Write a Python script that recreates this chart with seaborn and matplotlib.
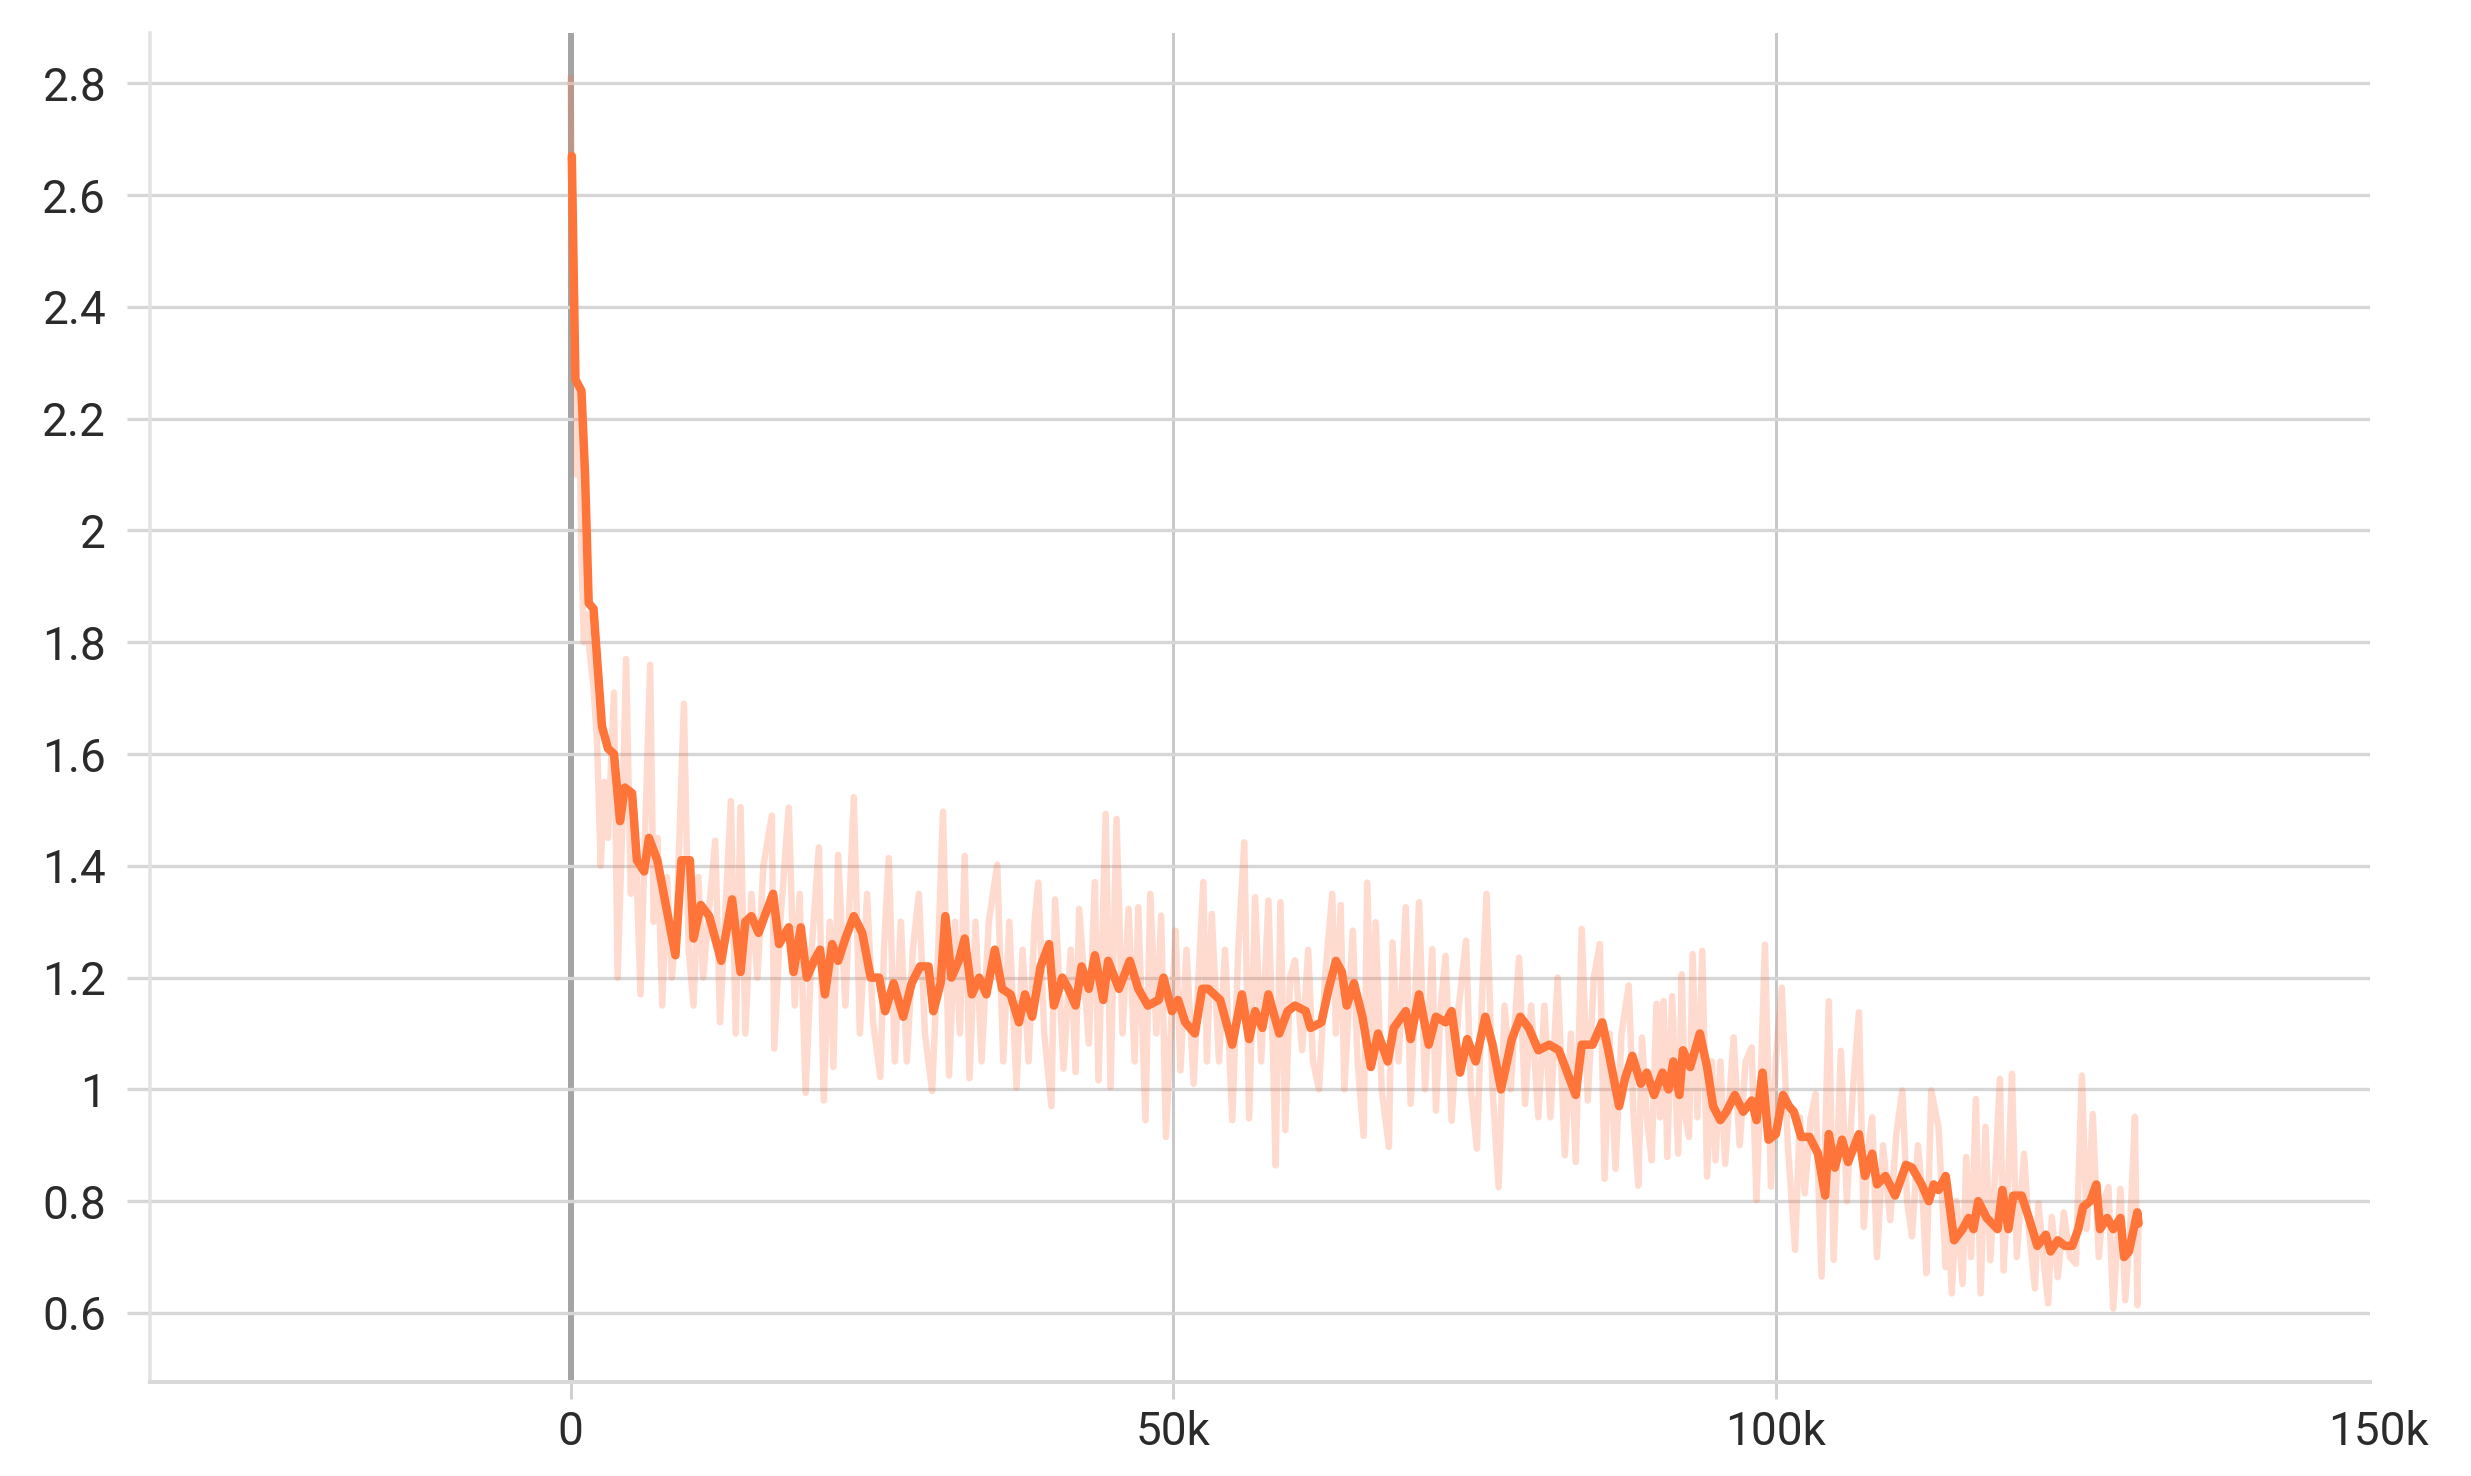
import numpy as np
import matplotlib
matplotlib.use("Agg")
import matplotlib.pyplot as plt
import seaborn as sns

# Smoothed loss curve (steps in thousands).
smooth_steps_k = [
    0.1, 0.4, 0.9, 1.2, 1.5, 1.9, 2.6, 3.1, 3.6, 4.1, 4.5, 5.1, 5.5, 6.1, 6.5, 7.2, 7.9, 8.7,
    9.2, 9.9, 10.2, 10.8, 11.5, 12.5, 13.4, 14.1, 14.5, 15.0, 15.6, 16.1, 16.8, 17.3, 18.1,
    18.5, 19.1, 19.6, 20.2, 20.7, 21.1, 21.7, 22.2, 22.8, 23.5, 24.2, 24.9, 25.6, 26.1, 26.8,
    27.6, 28.3, 29.0, 29.7, 30.1, 30.7, 31.1, 31.6, 32.2, 32.7, 33.3, 33.9, 34.5, 35.2, 35.8,
    36.5, 37.2, 37.7, 38.3, 39.0, 39.7, 40.1, 40.8, 41.3, 41.9, 42.4, 43.0, 43.5, 44.2, 44.6,
    45.5, 46.4, 47.1, 47.9, 48.8, 49.2, 49.9, 50.4, 51.0, 51.8, 52.4, 52.9, 53.9, 54.9, 55.7,
    56.3, 56.8, 57.4, 57.9, 58.8, 59.5, 60.1, 61.0, 61.4, 62.3, 62.9, 63.5, 64.0, 64.4, 65.0,
    65.7, 66.4, 67.0, 67.8, 68.3, 69.3, 69.7, 70.4, 71.2, 71.8, 72.6, 73.1, 73.8, 74.4, 75.1,
    75.9, 76.5, 77.2, 78.1, 78.8, 79.5, 80.3, 81.2, 82.0, 82.7, 83.4, 83.9, 84.8, 85.6, 86.1,
    87.0, 87.5, 88.1, 88.8, 89.3, 89.9, 90.6, 91.1, 91.5, 92.0, 92.3, 92.9, 93.7, 94.3, 94.8,
    95.4, 95.9, 96.6, 97.3, 98.0, 98.4, 98.9, 99.4, 100.0, 100.6, 101.1, 101.5, 102.1, 102.8,
    103.5, 104.1, 104.4, 104.9, 105.5, 106.0, 106.9, 107.4, 108.0, 108.4, 109.1, 109.9, 110.8,
    111.3, 112.1, 112.7, 113.1, 113.5, 114.1, 114.8, 115.5, 116.0, 116.4, 116.8, 117.5, 118.4,
    118.8, 119.3, 119.7, 120.4, 121.0, 121.7, 122.4, 122.8, 123.4, 124.0, 124.6, 125.1, 125.5,
    126.1, 126.6, 126.9, 127.5, 128.0, 128.6, 128.9, 129.3, 129.7, 130.0, 130.1,
]
smooth_loss = [
    2.67, 2.27, 2.25, 2.10, 1.87, 1.86, 1.65, 1.61, 1.60, 1.48, 1.54, 1.53, 1.41, 1.39, 1.45, 1.41, 1.33, 1.24,
    1.41, 1.41, 1.27, 1.33, 1.31, 1.23, 1.34, 1.21, 1.30, 1.31, 1.28, 1.31, 1.35, 1.26, 1.29,
    1.21, 1.29, 1.20, 1.23, 1.25, 1.17, 1.26, 1.23, 1.27, 1.31, 1.28, 1.20, 1.20, 1.14, 1.19,
    1.13, 1.19, 1.22, 1.22, 1.14, 1.19, 1.31, 1.20, 1.23, 1.27, 1.17, 1.20, 1.17, 1.25, 1.18,
    1.17, 1.12, 1.17, 1.13, 1.22, 1.26, 1.15, 1.20, 1.18, 1.15, 1.22, 1.18, 1.24, 1.16, 1.23,
    1.18, 1.23, 1.18, 1.15, 1.16, 1.20, 1.14, 1.16, 1.12, 1.10, 1.18, 1.18, 1.16, 1.08, 1.17,
    1.09, 1.14, 1.11, 1.17, 1.10, 1.14, 1.15, 1.14, 1.11, 1.12, 1.18, 1.23, 1.21, 1.15, 1.19,
    1.13, 1.04, 1.10, 1.05, 1.11, 1.14, 1.09, 1.17, 1.08, 1.13, 1.12, 1.14, 1.03, 1.09, 1.05,
    1.13, 1.08, 1.00, 1.09, 1.13, 1.11, 1.07, 1.08, 1.07, 1.03, 0.99, 1.08, 1.08, 1.12, 1.07,
    0.97, 1.02, 1.06, 1.01, 1.03, 0.99, 1.03, 1.00, 1.05, 0.99, 1.07, 1.04, 1.10, 1.04, 0.97,
    0.945, 0.96, 0.99, 0.96, 0.98, 0.945, 1.03, 0.91, 0.92, 0.99, 0.97, 0.96, 0.915, 0.915,
    0.885, 0.81, 0.92, 0.86, 0.91, 0.87, 0.92, 0.845, 0.885, 0.83, 0.845, 0.81, 0.865,
    0.86, 0.83, 0.80, 0.83, 0.82, 0.845, 0.73, 0.75, 0.77, 0.75, 0.80, 0.77, 0.75,
    0.82, 0.75, 0.81, 0.81, 0.77, 0.72, 0.74, 0.71, 0.73, 0.72, 0.72, 0.75, 0.79,
    0.80, 0.83, 0.75, 0.77, 0.75, 0.77, 0.70, 0.71, 0.75, 0.78, 0.76,
]

# Raw (unsmoothed) loss values (steps in thousands).
raw_steps_k = [
    0.0, 0.15, 0.3, 0.5, 0.7, 0.9, 1.1, 1.3, 1.6, 1.9, 2.2, 2.5, 2.8, 3.1, 3.6, 3.9, 4.3, 4.6,
    5.0, 5.3, 5.8, 6.1, 6.6, 6.9, 7.2, 7.6, 8.0, 8.4, 8.8, 9.4, 9.8, 10.2, 10.6, 11.0, 11.4,
    12.0, 12.4, 12.8, 13.3, 13.7, 14.1, 14.5, 15.0, 15.5, 16.0, 16.7, 16.9, 17.4, 18.1, 18.6,
    19.0, 19.5, 20.0, 20.6, 21.0, 21.5, 21.8, 22.2, 22.8, 23.5, 24.0, 24.6, 25.1, 25.7, 26.0,
    26.4, 26.9, 27.4, 27.9, 28.4, 28.9, 29.4, 30.0, 30.5, 30.9, 31.4, 31.9, 32.3, 32.7, 33.1,
    33.6, 34.1, 34.7, 35.4, 35.9, 36.4, 37.0, 37.5, 38.0, 38.5, 38.8, 39.3, 39.9, 40.2, 40.9,
    41.5, 41.9, 42.2, 43.0, 43.5, 43.8, 44.4, 44.8, 45.3, 45.8, 46.3, 46.8, 47.1, 47.7, 48.1,
    48.6, 49.0, 49.4, 49.9, 50.2, 50.6, 51.1, 51.7, 52.1, 52.5, 52.8, 53.2, 53.8, 54.3, 54.9,
    55.4, 55.9, 56.3, 56.8, 57.3, 57.9, 58.3, 58.5, 58.9, 59.3, 59.7, 60.1, 60.7, 61.2, 61.6,
    62.1, 62.6, 63.2, 63.5, 63.9, 64.2, 64.9, 65.3, 65.8, 66.1, 66.5, 66.8, 67.3, 67.9, 68.2,
    68.7, 69.3, 69.7, 70.4, 70.9, 71.5, 71.8, 72.2, 72.6, 73.1, 73.7, 74.3, 74.7, 75.2, 75.6,
    76.0, 76.5, 77.0, 77.5, 78.0, 78.7, 79.2, 79.7, 80.3, 80.8, 81.3, 81.9, 82.5, 83.0, 83.4,
    83.9, 84.4, 84.9, 85.4, 85.8, 86.2, 86.7, 87.2, 87.8, 88.2, 88.6, 88.9, 89.3, 89.7, 90.1,
    90.4, 90.7, 91.0, 91.4, 91.9, 92.2, 92.5, 92.8, 93.1, 93.5, 93.9, 94.3, 94.7, 95.0, 95.4,
    95.8, 96.5, 97.0, 97.5, 98.0, 98.4, 98.8, 99.1, 99.6, 100.0, 100.5, 101.0, 101.6, 102.0,
    102.4, 102.9, 103.3, 103.8, 104.4, 104.8, 105.4, 105.9, 106.4, 106.9, 107.3, 107.7, 108.0,
    108.4, 108.9, 109.5, 110.0, 110.5, 110.9, 111.3, 111.8, 112.2, 112.5, 112.9, 113.5, 114.1,
    114.3, 114.6, 115.0, 115.5, 115.8, 116.2, 116.6, 117.0, 117.4, 117.8, 118.2, 118.6, 118.9,
    119.3, 119.6, 120.0, 120.6, 121.0, 121.5, 121.8, 122.2, 122.6, 122.9, 123.4, 123.9, 124.4,
    124.9, 125.4, 125.8, 126.3, 126.8, 127.2, 127.6, 128.0, 128.6, 129.0, 129.4, 129.8, 130.0,
    130.1,
]
raw_loss = [
    2.81, 2.50, 2.45, 2.10, 2.25, 1.95, 1.80, 1.85, 1.78, 1.72, 1.62, 1.40, 1.55, 1.45, 1.71, 1.20, 1.48, 1.77,
    1.35, 1.50, 1.17, 1.40, 1.76, 1.30, 1.45, 1.15, 1.38, 1.20, 1.30, 1.69, 1.25, 1.15, 1.38, 1.20, 1.30,
    1.445, 1.12, 1.30, 1.516, 1.10, 1.505, 1.10, 1.35, 1.20, 1.40, 1.49, 1.073, 1.30, 1.504, 1.15,
    1.35, 0.994, 1.25, 1.433, 0.98, 1.30, 1.04, 1.42, 1.15, 1.523, 1.10, 1.35, 1.12, 1.022, 1.25,
    1.414, 1.05, 1.30, 1.05, 1.25, 1.35, 1.10, 0.997, 1.25, 1.497, 1.025, 1.30, 1.10, 1.418, 1.02,
    1.30, 1.05, 1.30, 1.402, 1.05, 1.30, 1.003, 1.25, 1.05, 1.30, 1.37, 1.10, 0.97, 1.34, 1.037,
    1.25, 1.031, 1.323, 1.082, 1.371, 1.016, 1.493, 1.004, 1.484, 1.10, 1.323, 1.05, 1.326, 0.945, 1.35,
    1.10, 1.311, 0.915, 1.15, 1.284, 1.034, 1.25, 1.01, 1.20, 1.371, 1.05, 1.314, 1.05, 1.25, 0.945,
    1.25, 1.442, 0.948, 1.344, 1.05, 1.338, 1.05, 0.864, 1.335, 0.927, 1.20, 1.231, 1.07, 1.25, 1.05,
    1.00, 1.20, 1.35, 1.10, 1.33, 1.00, 1.284, 1.05, 0.917, 1.37, 1.05, 1.299, 1.00, 0.897, 1.263,
    1.05, 1.326, 0.974, 1.335, 1.00, 1.251, 0.962, 1.15, 1.239, 0.944, 1.15, 1.266, 1.00, 0.894, 1.15,
    1.35, 1.00, 0.825, 1.15, 1.00, 1.236, 0.974, 1.15, 0.95, 1.15, 0.95, 1.20, 0.882, 1.10, 0.87,
    1.287, 0.98, 1.20, 1.26, 0.84, 1.10, 0.858, 1.10, 1.186, 0.95, 0.828, 1.093, 0.95, 0.873, 1.153,
    0.95, 1.158, 0.879, 1.167, 0.885, 1.206, 0.95, 0.915, 1.242, 0.95, 1.248, 0.844, 1.05, 0.873, 1.05,
    0.867, 1.093, 0.90, 1.05, 1.075, 0.802, 1.05, 1.259, 0.826, 1.05, 1.182, 0.90, 0.713, 0.95,
    0.814, 0.95, 0.992, 0.665, 1.158, 0.695, 1.069, 0.80, 1.00, 1.138, 0.754, 0.90, 0.95,
    0.70, 0.90, 0.766, 0.92, 0.998, 0.80, 0.737, 0.90, 0.80, 0.671, 0.998, 0.933, 0.682,
    0.80, 0.635, 0.80, 0.652, 0.879, 0.70, 0.983, 0.635, 0.933, 0.694, 0.85, 1.019, 0.676,
    0.85, 1.028, 0.70, 0.885, 0.75, 0.644, 0.796, 0.70, 0.617, 0.772, 0.664, 0.78, 0.70,
    0.688, 1.025, 0.75, 0.956, 0.70, 0.80, 0.825, 0.608, 0.822, 0.623, 0.75, 0.951, 0.614,
    0.78,
]

y_ticks = [0.6, 0.8, 1.0, 1.2, 1.4, 1.6, 1.8, 2.0, 2.2, 2.4, 2.6, 2.8]
x_ticks = [0, 50000, 100000]
x_tick_labels = ['0', '50k', '100k']
x_extra_tick = 150000
x_extra_label = '150k'

sns.set_theme(style='white')
plt.rcParams['font.family'] = ['Roboto', 'DejaVu Sans']

PX = 0.72  # points per pixel at dpi 100
line_color = '#ff7539'
raw_color = '#ff7043'
label_color = '#2b2b2b'
FS = 33

fig = plt.figure(figsize=(24.71, 14.76), dpi=100)
ax = fig.add_axes([0.0607, 0.0637, 0.8984, 0.9139])

raw_x = np.array(raw_steps_k) * 1000
smooth_x = np.array(smooth_steps_k) * 1000

sns.lineplot(x=raw_x, y=raw_loss, ax=ax, estimator=None, sort=False,
             color=raw_color, alpha=0.25, lw=6.5 * PX, zorder=3)
sns.lineplot(x=smooth_x, y=smooth_loss, ax=ax, estimator=None, sort=False,
             color=line_color, lw=8.5 * PX, zorder=4)

ax.set_xlim(-34900, 149300)
ax.set_ylim(0.4765, 2.89)

ax.set_yticks(y_ticks)
ax.set_yticklabels([f'{v:g}' for v in y_ticks])
ax.set_xticks(x_ticks)
ax.set_xticklabels(x_tick_labels)

# grid: light horizontal lines, vertical lines at x ticks, zero line darker
ax.grid(axis='y', color='#d6d6d6', lw=3.3 * PX)
ax.grid(axis='x', color='#c8c8c8', lw=3 * PX)
ax.set_axisbelow(True)
ax.get_xgridlines()[0].set_color('#a4a4a4')
ax.get_xgridlines()[0].set_linewidth(6 * PX)

ax.tick_params(axis='y', length=23 * PX, width=3.3 * PX, color='#d6d6d6',
               pad=15, labelsize=FS, labelcolor=label_color, left=True)
ax.tick_params(axis='x', length=17 * PX, width=3 * PX, color='#d0d0d0',
               pad=8, labelsize=FS, labelcolor=label_color, bottom=True)

for side in ['top', 'right']:
    ax.spines[side].set_visible(False)
ax.spines['left'].set_color('#e2e2e2')
ax.spines['left'].set_linewidth(3.5 * PX)
ax.spines['bottom'].set_color('#d9d9d9')
ax.spines['bottom'].set_linewidth(4 * PX)

ax.set_xlabel('')
ax.set_ylabel('')

# last x label sits just past the right edge of the plot area
ax.annotate(x_extra_label, xy=(x_extra_tick, 0), xycoords=ax.get_xaxis_transform(),
            xytext=(0, -(17 * PX + 8)), textcoords='offset points',
            ha='center', va='top', fontsize=FS, color=label_color, annotation_clip=False)

fig.savefig('out.png', dpi=100, facecolor='white')
